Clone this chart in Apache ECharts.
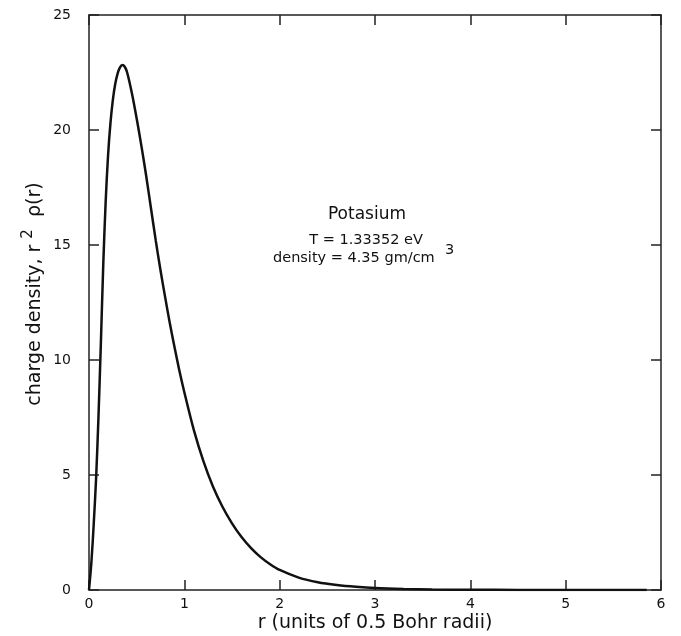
<!DOCTYPE html>
<html>
<head>
<meta charset="utf-8">
<script src="https://cdn.jsdelivr.net/npm/echarts@6/dist/echarts.min.js"></script>
<style>
html,body{margin:0;padding:0;background:#fff;}
#chart{width:681px;height:636px;}
</style>
</head>
<body>
<div id="chart"></div>
<script>
const rValues = [0, 0.025, 0.05, 0.075, 0.1, 0.125, 0.15, 0.175, 0.2, 0.225, 0.25, 0.275, 0.3, 0.325, 0.35, 0.375, 0.4, 0.45, 0.5, 0.55, 0.6, 0.65, 0.7, 0.75, 0.8, 0.85, 0.9, 0.95, 1.0, 1.1, 1.2, 1.3, 1.4, 1.5, 1.6, 1.7, 1.8, 1.9, 2.0, 2.2, 2.4, 2.6, 2.8, 3.0, 3.3, 3.6, 4.0, 4.5, 5.0, 5.5, 5.85];
const densityValues = [0, 1.2, 2.9, 4.9, 7.6, 10.8, 14.2, 16.9, 18.9, 20.3, 21.3, 22.0, 22.45, 22.72, 22.83, 22.75, 22.5, 21.6, 20.5, 19.3, 18.0, 16.6, 15.2, 13.9, 12.7, 11.55, 10.5, 9.5, 8.6, 6.95, 5.6, 4.5, 3.62, 2.9, 2.3, 1.82, 1.43, 1.12, 0.87, 0.54, 0.34, 0.22, 0.14, 0.085, 0.045, 0.024, 0.01, 0.004, 0.002, 0.001, 0];
const xTicks = [0, 1, 2, 3, 4, 5, 6];
const yTicks = [0, 5, 10, 15, 20, 25];
const xTitle = 'r (units of 0.5 Bohr radii)';
const yTitleParts = ['charge density, r ', '2', '  \u03c1(r)'];
const noteLines = ['Potasium', 'T = 1.33352 eV', 'density = 4.35 gm/cm ', '3'];

const chart = echarts.init(document.getElementById('chart'));
const FONT = '"DejaVu Sans", "Liberation Sans", sans-serif';
const axisCol = '#222';
const data = rValues.map((r, i) => [r, densityValues[i]]);

function xAx(pos, show) {
  return {
    type: 'value', position: pos, min: xTicks[0], max: xTicks[xTicks.length-1], interval: 1,
    axisLine: {show: true, onZero: false, lineStyle: {color: axisCol, width: 1.5}},
    axisTick: {show: true, inside: true, length: 10, lineStyle: {color: axisCol, width: 1.5}},
    axisLabel: {show: show, margin: 7, fontFamily: FONT, fontSize: 14, color: '#111'},
    splitLine: {show: false}
  };
}
function yAx(pos, show) {
  return {
    type: 'value', position: pos, min: yTicks[0], max: yTicks[yTicks.length-1], interval: 5,
    axisLine: {show: true, onZero: false, lineStyle: {color: axisCol, width: 1.5}},
    axisTick: {show: true, inside: true, length: 10, lineStyle: {color: axisCol, width: 1.5}},
    axisLabel: {show: show, margin: 18, fontFamily: FONT, fontSize: 14, color: '#111'},
    splitLine: {show: false}
  };
}

chart.setOption({
  backgroundColor: '#fff',
  animation: false,
  grid: {left: 89, right: 20, top: 15, bottom: 46, containLabel: false},
  xAxis: [xAx('bottom', true), xAx('top', false)],
  yAxis: [yAx('left', true), yAx('right', false)],
  series: [{
    type: 'line', xAxisIndex: 0, yAxisIndex: 0, data: data, smooth: 0.3,
    showSymbol: false, lineStyle: {color: '#111', width: 2.5}
  }],
  graphic: [
    {type: 'text', x: 375, y: 623, style: {text: xTitle, align: 'center', verticalAlign: 'middle', font: '19px ' + FONT, fill: '#111'}},
    {type: 'text', x: 33, y: 294, rotation: Math.PI/2, originX: 0, originY: 0,
     style: {text: '{a|' + yTitleParts[0] + '}{s|' + yTitleParts[1] + '}{a|' + yTitleParts[2] + '}',
       align: 'center', verticalAlign: 'middle',
       rich: {a: {fontSize: 19, fontFamily: FONT, fill: '#111', verticalAlign: 'bottom'},
              s: {fontSize: 15, fontFamily: FONT, fill: '#111', verticalAlign: 'top', padding: [0,0,9,0]}}}},
    {type: 'text', x: 367, y: 215, style: {text: noteLines[0], align: 'center', verticalAlign: 'middle', font: '17px ' + FONT, fill: '#111'}},
    {type: 'text', x: 366, y: 240, style: {text: noteLines[1], align: 'center', verticalAlign: 'middle', font: '14.5px ' + FONT, fill: '#111'}},
    {type: 'text', x: 273, y: 258, style: {text: noteLines[2], align: 'left', verticalAlign: 'middle', font: '14.5px ' + FONT, fill: '#111'}},
    {type: 'text', x: 445, y: 250, style: {text: noteLines[3], align: 'left', verticalAlign: 'middle', font: '14.5px ' + FONT, fill: '#111'}}
  ]
});
</script>
</body>
</html>
